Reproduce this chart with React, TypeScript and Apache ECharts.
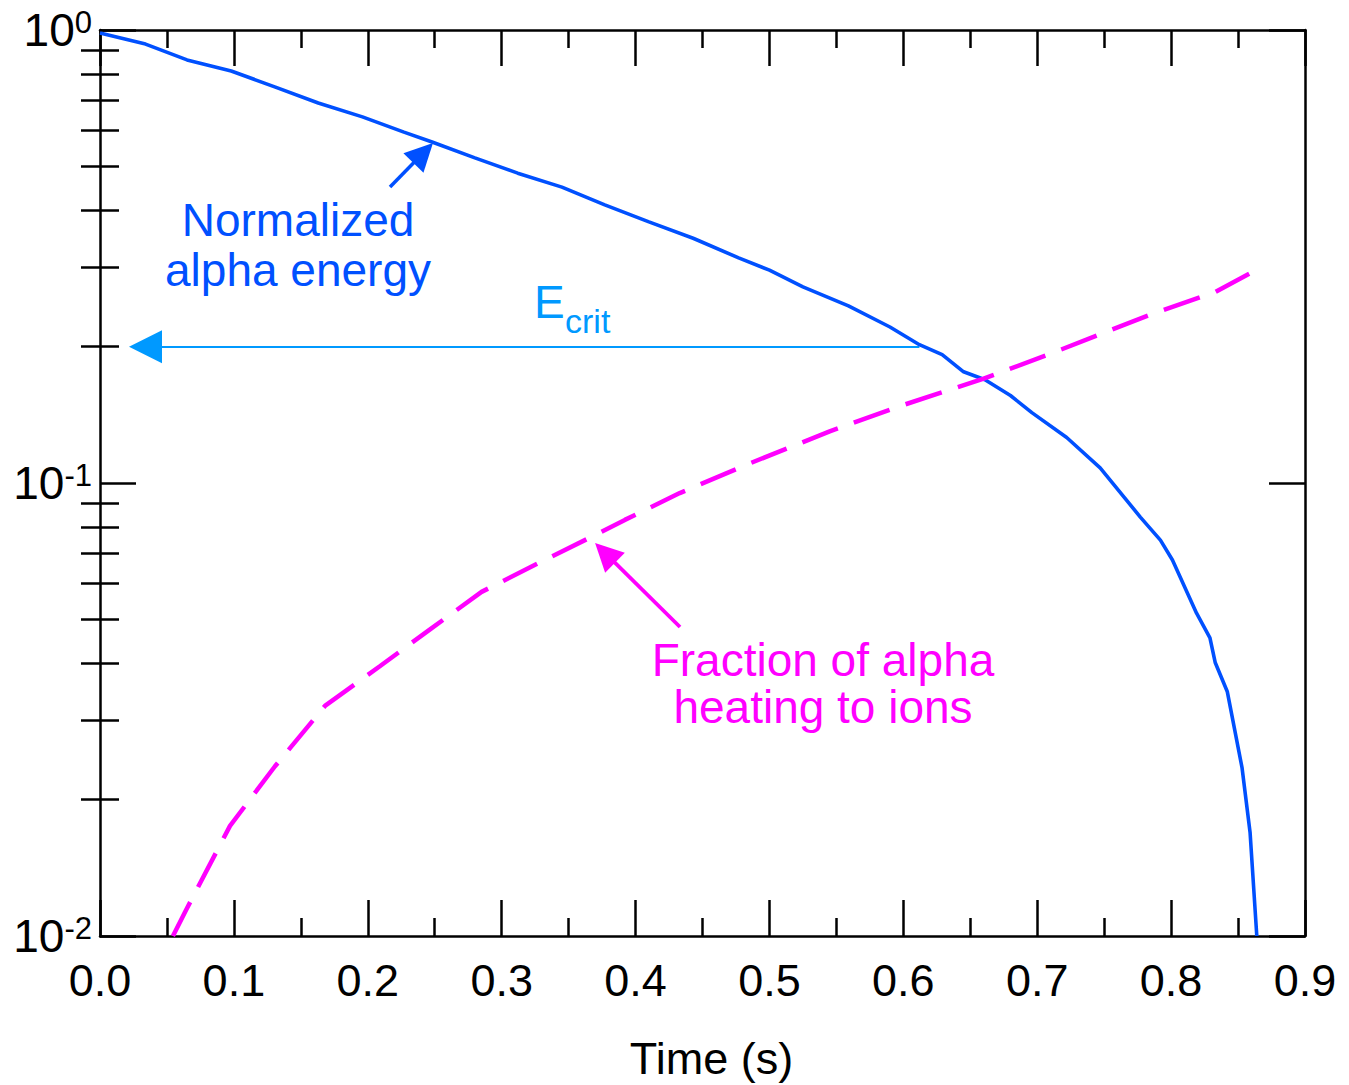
import React, { useEffect, useRef } from 'react';
import * as echarts from 'echarts';

// ---- data ----
const blueTime = [0, 0.034, 0.065, 0.098, 0.131, 0.163, 0.196, 0.227, 0.248, 0.28, 0.312, 0.345, 0.377, 0.41, 0.443, 0.477, 0.5, 0.525, 0.559, 0.59, 0.612, 0.629, 0.645, 0.661, 0.68, 0.696, 0.722, 0.747, 0.777, 0.792, 0.801, 0.819, 0.829, 0.833, 0.842, 0.853, 0.859, 0.864];
const blueEnergy = [0.985, 0.931, 0.859, 0.812, 0.748, 0.69, 0.643, 0.595, 0.566, 0.522, 0.483, 0.45, 0.411, 0.377, 0.347, 0.314, 0.295, 0.271, 0.246, 0.221, 0.202, 0.192, 0.176, 0.169, 0.156, 0.143, 0.126, 0.108, 0.0841, 0.0748, 0.0676, 0.0516, 0.0455, 0.0401, 0.0346, 0.0235, 0.0169, 0.01];

const magentaTime = [0.0545, 0.0642, 0.0971, 0.1307, 0.168, 0.209, 0.246, 0.285, 0.329, 0.37, 0.392, 0.433, 0.486, 0.545, 0.598, 0.66, 0.71, 0.784, 0.833, 0.866];
const magentaFraction = [0.01, 0.0114, 0.0175, 0.0237, 0.0322, 0.0394, 0.0474, 0.0575, 0.0669, 0.0768, 0.0829, 0.095, 0.1107, 0.13, 0.148, 0.17, 0.193, 0.235, 0.264, 0.298];

const yMinorTicks = [0.02, 0.03, 0.04, 0.05, 0.06, 0.07, 0.08, 0.09, 0.2, 0.3, 0.4, 0.5, 0.6, 0.7, 0.8, 0.9];

const ecritValue = 0.2;
const ecritArrow = [[0.612, ecritValue], [0.034, ecritValue]];
const energyArrow = [[0.2166, 0.45], [0.2414, 0.535]];
const fractionArrow = [[0.4332, 0.0481], [0.3772, 0.0701]];

const FONT = '"Liberation Sans", Arial, Helvetica, sans-serif';
const BLUE = '#0050ff';
const MAGENTA = '#ff00ff';
const CYAN = '#0099ff';
const BLACK = '#000000';

export default function App() {
  const ref = useRef<HTMLDivElement>(null);

  useEffect(() => {
    const chart = echarts.init(ref.current as HTMLDivElement, null, { renderer: 'svg' });

    const axisLine = { show: true, onZero: false, lineStyle: { color: BLACK, width: 2.5 } };
    const majorTick = { show: true, inside: true, length: 36, lineStyle: { color: BLACK, width: 2.5 } };
    const xMinor = { show: true, splitNumber: 2, length: 18, lineStyle: { color: BLACK, width: 2.5 } };

    const xCommon = {
      type: 'value',
      min: 0,
      max: 0.9,
      interval: 0.1,
      axisLine,
      axisTick: majorTick,
      minorTick: xMinor,
      splitLine: { show: false },
      minorSplitLine: { show: false },
    };

    const yCommon = {
      type: 'log',
      logBase: 10,
      min: 0.01,
      max: 1,
      splitLine: { show: false },
    };

    const toPairs = (xs: number[], ys: number[]) => xs.map((x, i) => [x, ys[i]]);

    const annot = (text: string, x: number, y: number, fill: string, size: number, align: string, lineHeight: number) => ({
      type: 'text',
      x,
      y,
      style: { text, fill, fontFamily: FONT, fontSize: size, lineHeight, align, verticalAlign: 'middle' },
    });

    const option: any = {
      animation: false,
      backgroundColor: '#ffffff',
      grid: { left: 100, top: 30, width: 1205, height: 906, containLabel: false, outerBoundsMode: 'none' },
      xAxis: [
        {
          ...xCommon,
          position: 'bottom',
          name: 'Time (s)',
          nameLocation: 'middle',
          nameGap: 100,
          nameTextStyle: { fontFamily: FONT, fontSize: 45, color: BLACK, padding: [0, 0, 0, 18] },
          axisLabel: {
            show: true,
            margin: 22,
            fontFamily: FONT,
            fontSize: 45,
            color: BLACK,
            showMinLabel: true,
            showMaxLabel: true,
            hideOverlap: false,
            formatter: (v: number) => v.toFixed(1),
          },
        },
        {
          ...xCommon,
          position: 'top',
          axisLabel: { show: false },
        },
      ],
      yAxis: [
        {
          ...yCommon,
          position: 'left',
          axisLine,
          axisTick: majorTick,
          axisLabel: {
            show: true,
            margin: 8,
            showMinLabel: true,
            showMaxLabel: true,
            hideOverlap: false,
            formatter: (v: number) => {
              const e = Math.round(Math.log10(v));
              return '{b|10}{s|' + e + '}';
            },
            rich: {
              b: { fontFamily: FONT, fontSize: 46, lineHeight: 46, color: BLACK, verticalAlign: 'bottom' },
              s: { fontFamily: FONT, fontSize: 31, lineHeight: 24, color: BLACK, verticalAlign: 'top' },
            },
          },
        },
        {
          ...yCommon,
          position: 'right',
          axisLine,
          axisTick: majorTick,
          axisLabel: { show: false },
        },
        {
          ...yCommon,
          position: 'left',
          axisLine: { show: false },
          axisTick: { show: true, inside: true, length: 19, customValues: yMinorTicks, lineStyle: { color: BLACK, width: 2.5 } },
          axisLabel: { show: false },
        },
        {
          ...yCommon,
          position: 'right',
          axisLine: { show: false },
          axisTick: { show: true, inside: true, length: 19, customValues: yMinorTicks, lineStyle: { color: BLACK, width: 2.5 } },
          axisLabel: { show: false },
        },
      ],
      series: [
        {
          name: 'Ecrit',
          type: 'lines',
          coordinateSystem: 'cartesian2d',
          xAxisIndex: 0,
          yAxisIndex: 0,
          silent: true,
          symbol: ['none', 'triangle'],
          symbolSize: [21, 33],
          itemStyle: { color: CYAN },
          lineStyle: { color: CYAN, width: 2.2, opacity: 1, curveness: 0 },
          data: [{ coords: ecritArrow }],
          z: 2,
        },
        {
          name: 'Normalized alpha energy',
          type: 'line',
          xAxisIndex: 0,
          yAxisIndex: 0,
          data: toPairs(blueTime, blueEnergy),
          showSymbol: false,
          symbol: 'none',
          clip: true,
          lineStyle: { color: BLUE, width: 3.6 },
          itemStyle: { color: BLUE },
          z: 3,
        },
        {
          name: 'Fraction of alpha heating to ions',
          type: 'line',
          xAxisIndex: 0,
          yAxisIndex: 0,
          data: toPairs(magentaTime, magentaFraction),
          showSymbol: false,
          symbol: 'none',
          clip: true,
          lineStyle: { color: MAGENTA, width: 4.5, type: [38, 17] },
          itemStyle: { color: MAGENTA },
          z: 4,
        },
        {
          name: 'energyArrow',
          type: 'lines',
          coordinateSystem: 'cartesian2d',
          xAxisIndex: 0,
          yAxisIndex: 0,
          silent: true,
          symbol: ['none', 'triangle'],
          symbolSize: [20, 28],
          itemStyle: { color: BLUE },
          lineStyle: { color: BLUE, width: 3.5, opacity: 1, curveness: 0 },
          data: [{ coords: energyArrow }],
          z: 5,
        },
        {
          name: 'fractionArrow',
          type: 'lines',
          coordinateSystem: 'cartesian2d',
          xAxisIndex: 0,
          yAxisIndex: 0,
          silent: true,
          symbol: ['none', 'triangle'],
          symbolSize: [20, 28],
          itemStyle: { color: MAGENTA },
          lineStyle: { color: MAGENTA, width: 3.8, opacity: 1, curveness: 0 },
          data: [{ coords: fractionArrow }],
          z: 5,
        },
      ],
      graphic: [
        annot('Normalized\nalpha energy', 298, 245, BLUE, 46, 'center', 49.5),
        annot('E', 534, 301.5, CYAN, 46, 'left', 42),
        annot('crit', 565, 321, CYAN, 34, 'left', 30),
        annot('Fraction of alpha\nheating to ions', 823, 683.5, MAGENTA, 46, 'center', 47),
      ],
    };

    chart.setOption(option);
    return () => {
      chart.dispose();
    };
  }, []);

  return <div ref={ref} style={{ position: 'fixed', left: 0, top: 0, width: 1349, height: 1085 }} />;
}
